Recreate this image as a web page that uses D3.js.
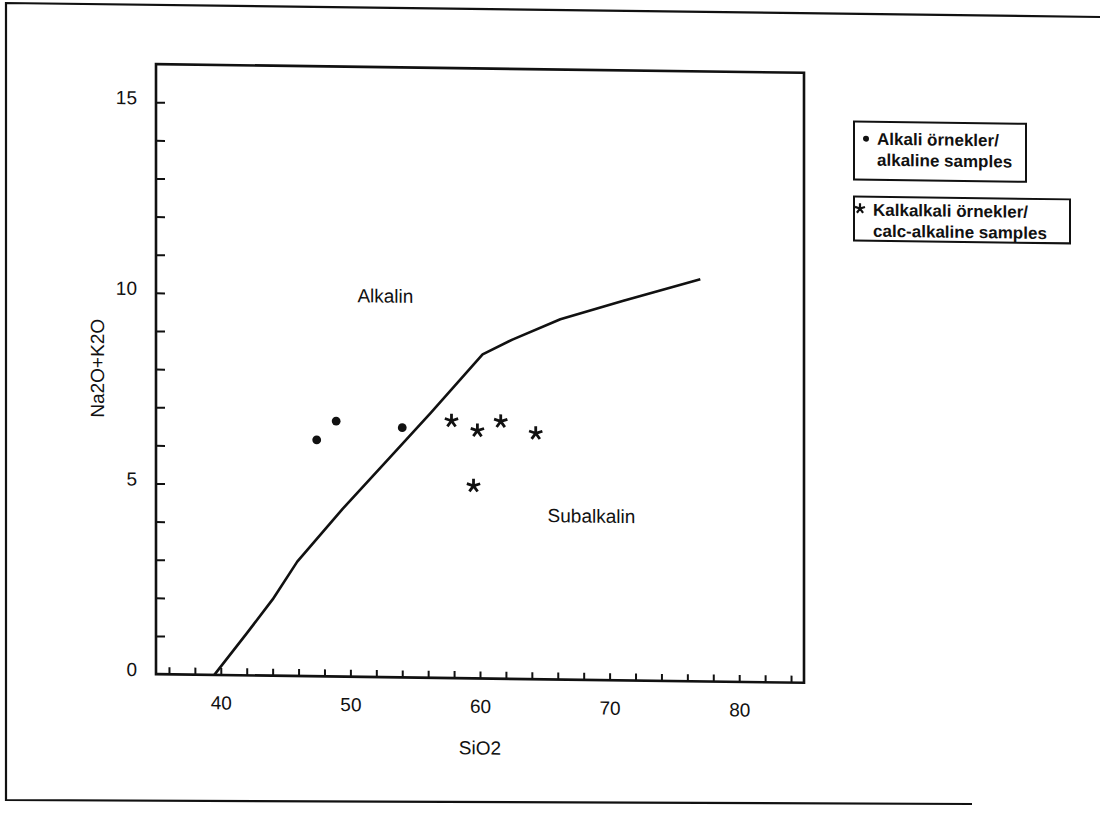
<!DOCTYPE html>
<html>
<head>
<meta charset="utf-8">
<script src="https://cdn.jsdelivr.net/npm/d3@7"></script>
<style>
  body { margin: 0; background: #fff; }
  svg { display: block; font-family: "Liberation Sans", Arial, sans-serif; }
</style>
</head>
<body>
<svg id="chart" width="1100" height="815"></svg>
<script>
// alkaline / subalkaline dividing curve
const curveSiO2 = [39.5, 42, 44, 45.9, 49.4, 53, 56.2, 60.2, 62.5, 66.2, 71, 77];
const curveAlk  = [0, 1.1, 2.0, 3.0, 4.4, 5.75, 6.95, 8.5, 8.9, 9.45, 9.95, 10.55];

// alkaline samples (dots)
const alkaliSiO2 = [47.4, 48.9, 54.0];
const alkaliAlk  = [6.2, 6.7, 6.55];

// calc-alkaline samples (asterisks)
const calcSiO2 = [57.8, 59.8, 61.6, 64.3, 59.5];
const calcAlk  = [6.75, 6.5, 6.75, 6.45, 5.05];

const xTickLabels = [40, 50, 60, 70, 80];
const yTickLabels = [0, 5, 10, 15];
const xMinorTicks = d3.range(36, 85, 2);
const yMinorTicks = d3.range(1, 16, 1);

const fieldLabels = [
    { text: "Alkalin", x: 52.7, y: 10.0 },
    { text: "Subalkalin", x: 68.6, y: 4.3 }
];
const legendItems = [
    { marker: "dot", lines: ["Alkali örnekler/", "alkaline samples"] },
    { marker: "star", lines: ["Kalkalkali örnekler/", "calc-alkaline samples"] }
];

const svg = d3.select("#chart");

// outer page frame (scanned sheet, slightly tilted)
svg.append("path")
    .attr("d", "M1100,17 L6,3 L6,800 L972,804")
    .attr("fill", "none")
    .attr("stroke", "#111")
    .attr("stroke-width", 2.2);

// whole chart is a little skewed like the scan
const g = svg.append("g").attr("transform", "skewY(0.77)");

const x = d3.scaleLinear().domain([35, 85]).range([156, 804]);
const y = d3.scaleLinear().domain([0, 16]).range([672, 62]);

// minor ticks pointing inward
g.append("g")
    .attr("transform", `translate(0,${y(0)})`)
    .call(d3.axisBottom(x).tickValues(xMinorTicks).tickSize(-7).tickFormat(""))
    .call(a => a.select(".domain").remove())
    .call(a => a.selectAll("line").attr("stroke", "#111").attr("stroke-width", 2));

g.append("g")
    .attr("transform", `translate(${x(35)},0)`)
    .call(d3.axisLeft(y).tickValues(yMinorTicks).tickSize(-9).tickFormat(""))
    .call(a => a.select(".domain").remove())
    .call(a => a.selectAll("line").attr("stroke", "#111").attr("stroke-width", 2));

// tick labels
g.append("g")
    .attr("transform", `translate(0,${y(0)})`)
    .call(d3.axisBottom(x).tickValues(xTickLabels).tickSize(0).tickPadding(21))
    .call(a => a.select(".domain").remove())
    .call(a => a.selectAll("text").attr("fill", "#111").style("font-size", "19px"));

g.append("g")
    .attr("transform", `translate(${x(35)},0)`)
    .call(d3.axisLeft(y).tickValues(yTickLabels).tickSize(0).tickPadding(19))
    .call(a => a.select(".domain").remove())
    .call(a => a.selectAll("text").attr("fill", "#111").attr("dy", "0.1em").style("font-size", "19px"));

// plot box
g.append("rect")
    .attr("x", x(35))
    .attr("y", y(16))
    .attr("width", x(85) - x(35))
    .attr("height", y(0) - y(16))
    .attr("fill", "none")
    .attr("stroke", "#111")
    .attr("stroke-width", 2.6);

// axis titles
g.append("text")
    .attr("x", (x(35) + x(85)) / 2)
    .attr("y", y(0) + 76)
    .attr("text-anchor", "middle")
    .style("font-size", "19px")
    .attr("fill", "#111")
    .text("SiO2");

g.append("text")
    .attr("transform", `translate(104,${(y(0) + y(16)) / 2}) rotate(-90)`)
    .attr("text-anchor", "middle")
    .style("font-size", "19px")
    .attr("fill", "#111")
    .text("Na2O+K2O");

// dividing curve
const boundary = curveSiO2.map((s, i) => ({ s: s, a: curveAlk[i] }));
g.append("path")
    .datum(boundary)
    .attr("fill", "none")
    .attr("stroke", "#111")
    .attr("stroke-width", 2.6)
    .attr("stroke-linejoin", "round")
    .attr("d", d3.line().x(d => x(d.s)).y(d => y(d.a)));

// field names
g.selectAll(".field")
    .data(fieldLabels)
    .join("text")
    .attr("class", "field")
    .attr("x", d => x(d.x))
    .attr("y", d => y(d.y))
    .attr("dy", "0.35em")
    .attr("text-anchor", "middle")
    .style("font-size", "19px")
    .attr("fill", "#111")
    .text(d => d.text);

// asterisk symbol (5 arms)
const asterisk = {
    draw(context, size) {
        const r = Math.sqrt(size) / 2;
        for (let k = 0; k < 5; k++) {
            const a = -Math.PI / 2 + k * 2 * Math.PI / 5;
            context.moveTo(0, 0);
            context.lineTo(r * Math.cos(a), r * Math.sin(a));
        }
    }
};

const alkali = alkaliSiO2.map((s, i) => ({ s: s, a: alkaliAlk[i] }));
g.selectAll(".dot")
    .data(alkali)
    .join("circle")
    .attr("class", "dot")
    .attr("cx", d => x(d.s))
    .attr("cy", d => y(d.a))
    .attr("r", 4.4)
    .attr("fill", "#111");

const calc = calcSiO2.map((s, i) => ({ s: s, a: calcAlk[i] }));
g.selectAll(".star")
    .data(calc)
    .join("path")
    .attr("class", "star")
    .attr("transform", d => `translate(${x(d.s)},${y(d.a)})`)
    .attr("d", d3.symbol(asterisk, 196))
    .attr("fill", "none")
    .attr("stroke", "#111")
    .attr("stroke-width", 2.8);

// legend boxes
const legendBoxes = [
    { x: 854, y: 110, w: 172, h: 58 },
    { x: 854, y: 185, w: 216, h: 44 }
];
legendItems.forEach((item, i) => {
    const b = legendBoxes[i];
    const lg = g.append("g").attr("transform", `translate(${b.x},${b.y})`);
    lg.append("rect")
        .attr("width", b.w)
        .attr("height", b.h)
        .attr("fill", "#fff")
        .attr("stroke", "#111")
        .attr("stroke-width", 2);
    const top = item.marker === "dot" ? 17 : 13;
    if (item.marker === "dot") {
        lg.append("circle").attr("cx", 12).attr("cy", top).attr("r", 3).attr("fill", "#111");
    } else {
        lg.append("path")
            .attr("transform", `translate(6,${top - 1})`)
            .attr("d", d3.symbol(asterisk, 110))
            .attr("fill", "none")
            .attr("stroke", "#111")
            .attr("stroke-width", 2.2);
    }
    lg.selectAll("text")
        .data(item.lines)
        .join("text")
        .attr("x", item.marker === "dot" ? 23 : 19)
        .attr("y", (d, j) => top + j * 21)
        .attr("dy", "0.35em")
        .style("font-size", "17px")
        .style("font-weight", "bold")
        .attr("fill", "#111")
        .text(d => d);
});
</script>
</body>
</html>
